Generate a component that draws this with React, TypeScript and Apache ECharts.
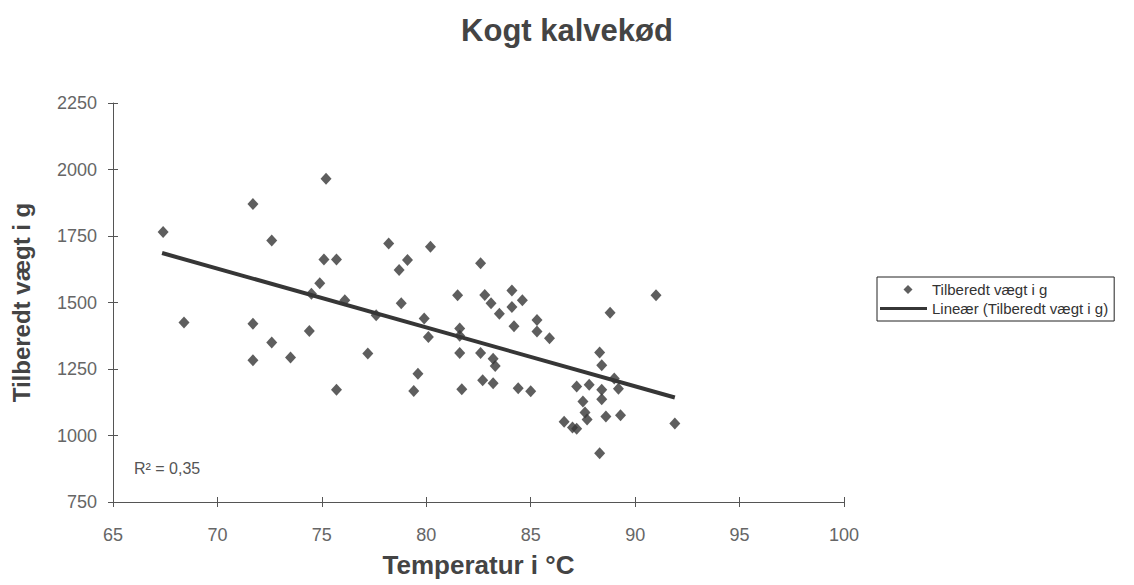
import React, { useEffect, useRef } from "react";
import * as echarts from "echarts";

const chartTitle = "Kogt kalvekød";
const xAxisTitle = "Temperatur i °C";
const yAxisTitle = "Tilberedt vægt i g";
const scatterName = "Tilberedt vægt i g";
const trendName = "Lineær (Tilberedt vægt i g)";
const r2Label = "R² = 0,35";

const temperatures = [
  67.4, 68.4, 71.7, 71.7, 71.7, 72.6, 72.6, 73.5, 74.4, 74.5,
  74.9, 75.1, 75.2, 75.7, 75.7, 76.1, 77.2, 77.6, 78.2, 78.7,
  78.8, 79.1, 79.4, 79.6, 79.9, 80.1, 80.2, 81.5, 81.6, 81.6,
  81.6, 81.7, 82.6, 82.6, 82.7, 82.8, 83.1, 83.2, 83.2, 83.3,
  83.5, 84.1, 84.1, 84.2, 84.4, 84.6, 85.0, 85.3, 85.3, 85.9,
  86.6, 87.0, 87.2, 87.2, 87.5, 87.6, 87.7, 87.8, 88.3, 88.3,
  88.4, 88.4, 88.4, 88.6, 88.8, 89.0, 89.2, 89.3, 91.0, 91.9,
];
const weights = [
  1765, 1425, 1870, 1420, 1283, 1733, 1350, 1293, 1393, 1533,
  1572, 1662, 1965, 1662, 1172, 1508, 1308, 1452, 1722, 1622,
  1497, 1660, 1167, 1232, 1440, 1370, 1710, 1527, 1402, 1375,
  1310, 1174, 1648, 1310, 1208, 1528, 1497, 1289, 1196, 1261,
  1458, 1545, 1483, 1411, 1178, 1508, 1166, 1434, 1391, 1366,
  1052, 1030, 1025, 1184, 1128, 1086, 1060, 1191, 1312, 933,
  1264, 1172, 1136, 1071, 1461, 1214, 1176, 1076, 1527, 1045,
];
const trendX = [67.35, 91.9];
const trendY = [1686, 1143];

const xMin = 65, xMax = 100, xStep = 5;
const yMin = 750, yMax = 2250, yStep = 250;

export default function App() {
  const ref = useRef<HTMLDivElement>(null);
  useEffect(() => {
    if (!ref.current) return;
    const chart = echarts.init(ref.current, null, { renderer: "svg" });
    const font = "'Liberation Sans', Arial, sans-serif";
    const axisColor = "#555";
    const markColor = "#363636";
    const scatterData = temperatures.map((t, i) => [t, weights[i]]);
    const trendData = trendX.map((t, i) => [t, trendY[i]]);
    const gridBox = { left: 113, top: 103, width: 731, height: 399, containLabel: false };
    const diamondIcon =
      "path://M0,0 L0,0 M47,14 L47,14 M28,2.5 L32.5,7 L28,11.5 L23.5,7 Z";
    const lineIcon =
      "path://M0,0 L0,0 M0,14 L0,14 M0,5.5 L47,5.5 L47,8.5 L0,8.5 Z";
    chart.setOption({
      animation: false,
      backgroundColor: "#fff",
      textStyle: { fontFamily: font },
      title: {
        text: chartTitle,
        left: "center",
        top: 10,
        textStyle: { fontSize: 31, fontWeight: "bold", color: "#444", fontFamily: font },
      },
      grid: [gridBox, { ...gridBox }],
      legend: {
        orient: "vertical",
        left: 877,
        top: 277,
        padding: [5, 6, 5, 3],
        itemGap: 4,
        itemWidth: 47,
        itemHeight: 14,
        borderColor: "#222",
        borderWidth: 1,
        textStyle: { fontSize: 15, color: "#333", fontFamily: font },
        data: [
          { name: scatterName, icon: diamondIcon },
          { name: trendName, icon: lineIcon },
        ],
      },
      xAxis: [
        {
          type: "value",
          gridIndex: 0,
          min: xMin,
          max: xMax,
          interval: xStep,
          position: "bottom",
          name: xAxisTitle,
          nameLocation: "middle",
          nameGap: 50,
          nameTextStyle: { fontSize: 26, fontWeight: "bold", color: "#444", fontFamily: font },
          axisLine: { show: true, lineStyle: { color: axisColor, width: 1 } },
          axisTick: { show: true, inside: false, length: 5, lineStyle: { color: axisColor } },
          axisLabel: { fontSize: 18, color: "#666", margin: 24, fontFamily: font },
          splitLine: { show: false },
        },
        {
          type: "value",
          gridIndex: 1,
          min: xMin,
          max: xMax,
          interval: xStep,
          position: "bottom",
          axisLine: { show: false },
          axisTick: { show: true, inside: true, length: 5, lineStyle: { color: axisColor } },
          axisLabel: { show: false },
          splitLine: { show: false },
        },
      ],
      yAxis: [
        {
          type: "value",
          gridIndex: 0,
          min: yMin,
          max: yMax,
          interval: yStep,
          position: "left",
          name: yAxisTitle,
          nameLocation: "middle",
          nameGap: 80,
          nameRotate: 90,
          nameTextStyle: { fontSize: 24, fontWeight: "bold", color: "#444", fontFamily: font },
          axisLine: { show: true, lineStyle: { color: axisColor, width: 1 } },
          axisTick: { show: true, inside: false, length: 5, lineStyle: { color: axisColor } },
          axisLabel: {
            fontSize: 18,
            color: "#666",
            margin: 16,
            fontFamily: font,
            formatter: (v: number) => String(v),
          },
          splitLine: { show: false },
        },
        {
          type: "value",
          gridIndex: 1,
          min: yMin,
          max: yMax,
          interval: yStep,
          position: "left",
          axisLine: { show: false },
          axisTick: { show: true, inside: true, length: 5, lineStyle: { color: axisColor } },
          axisLabel: { show: false },
          splitLine: { show: false },
        },
      ],
      graphic: [
        {
          type: "text",
          left: 134,
          top: 460,
          style: { text: r2Label, fontSize: 16, fill: "#555", fontFamily: font },
        },
      ],
      series: [
        {
          name: scatterName,
          type: "scatter",
          xAxisIndex: 0,
          yAxisIndex: 0,
          symbol: "diamond",
          symbolSize: [11, 12],
          itemStyle: { color: markColor },
          data: scatterData,
          z: 3,
        },
        {
          name: trendName,
          type: "line",
          xAxisIndex: 0,
          yAxisIndex: 0,
          showSymbol: false,
          symbol: "none",
          lineStyle: { color: markColor, width: 4 },
          itemStyle: { color: markColor },
          data: trendData,
          z: 4,
        },
      ],
    });
    return () => chart.dispose();
  }, []);
  return (
    <div
      ref={ref}
      style={{ position: "fixed", left: 0, top: 0, width: 1134, height: 585, background: "#fff" }}
    />
  );
}
